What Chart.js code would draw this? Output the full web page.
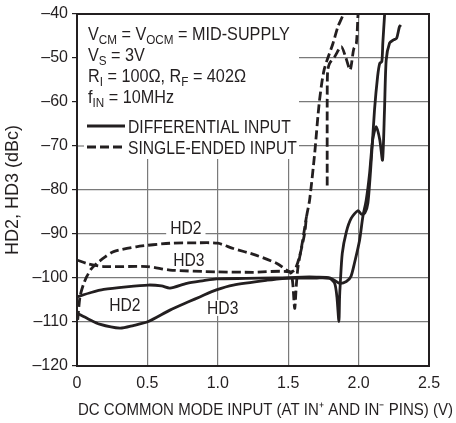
<!DOCTYPE html>
<html>
<head>
<meta charset="utf-8">
<script src="https://cdn.jsdelivr.net/npm/chart.js@4.4.1/dist/chart.umd.min.js"></script>
<style>
  html, body { margin: 0; padding: 0; background: #fff; }
  #wrap { width: 456px; height: 423px; }
</style>
</head>
<body>
<div id="wrap"><canvas id="c" width="456" height="423"></canvas></div>
<script>
// ---------- DATA ----------
const xTickLabels = ['0', '0.5', '1.0', '1.5', '2.0', '2.5'];
const yTickValues = [-120, -110, -100, -90, -80, -70, -60, -50, -40];

// Differential input, HD2 (solid, upper low-voltage curve, ends with cusp + left loop)
const diffHd2X = [0, 0.1, 0.19, 0.35, 0.506, 0.6, 0.66, 0.78, 0.9, 0.99, 1.2, 1.4, 1.5, 1.6, 1.7, 1.794, 1.83, 1.846, 1.86, 1.865, 1.87, 1.884, 1.913, 1.948, 1.995, 2.02, 2.045, 2.066, 2.09, 2.113, 2.135, 2.15, 2.165, 2.172, 2.184, 2.19];
const diffHd2Y = [-104.3, -103.3, -102.6, -102.0, -101.6, -101.8, -102.3, -101.2, -100.6, -100.2, -100.1, -100.0, -100.0, -100.0, -100.0, -100.1, -101.2, -104.3, -109.9, -104.3, -101.2, -94.4, -89.5, -86.4, -84.7, -85.5, -85.2, -83.0, -73.2, -61.8, -54.2, -51.2, -50.8, -46.6, -40.5, -37];

// Differential input, HD3 (solid, lower low-voltage curve)
const diffHd3X = [0, 0.08, 0.16, 0.305, 0.4, 0.506, 0.66, 0.8, 0.872, 0.99, 1.11, 1.35, 1.5, 1.6, 1.7, 1.8, 1.865, 1.913, 1.945, 1.97, 2.007, 2.03, 2.054, 2.078, 2.1, 2.125, 2.15, 2.17, 2.184, 2.196, 2.22, 2.248, 2.27, 2.29, 2.30];
const diffHd3Y = [-108.0, -109.3, -110.5, -111.4, -110.8, -109.9, -107.3, -105.3, -104.3, -102.7, -101.6, -100.5, -100.0, -99.8, -99.8, -100.0, -101.2, -100.8, -99.7, -96.7, -91.4, -86.1, -82.3, -76.2, -68.6, -65.6, -68.5, -73.2, -61.8, -50.5, -46.6, -45.9, -45.5, -42.9, -42.5];

// Single-ended input, HD2 (dashed, rises to -92 plateau)
const seHd2X = [0.005, 0.021, 0.045, 0.069, 0.1, 0.14, 0.2, 0.26, 0.42, 0.66, 0.85, 1.0, 1.11, 1.27, 1.42, 1.51, 1.546, 1.58, 1.617, 1.63, 1.652, 1.688, 1.72, 1.755, 1.818, 1.853, 1.889, 1.9];
const seHd2Y = [-109.5, -104.3, -101.5, -99.7, -98.0, -96.7, -95.2, -94.0, -92.9, -92.1, -92.0, -92.1, -93.3, -94.8, -96.7, -98.6, -98.2, -95.2, -89.8, -86.1, -82.3, -71.7, -60.3, -52.7, -46.7, -42.9, -40.2, -38];

// Single-ended input, HD3 (dashed, flat near -98, dip, then a separate upper branch)
const seHd3X = [0, 0.07, 0.19, 0.5, 0.66, 0.99, 1.25, 1.51, 1.53, 1.546, 1.558, 1.57, 1.6, 1.63, 1.70, 1.777, 1.777, 1.78, 1.794, 1.83, 1.877, 1.91, 1.94, 1.965, 1.984, 1.995, 2.0];
const seHd3Y = [-95.9, -96.7, -97.4, -97.4, -98.2, -98.6, -98.7, -98.6, -100.5, -106.9, -101.5, -97.4, -92.0, -86.0, null, -79.0, -60.0, -53.0, -51.2, -49.7, -47.4, -50.0, -52.7, -48.0, -46.7, -40.6, -38];

const xTitle = 'DC COMMON MODE INPUT (AT IN\u207A AND IN\u207B PINS) (V)';
const yTitle = 'HD2, HD3 (dBc)';

// ---------- helpers ----------
const pts = (xs, ys) => xs.map((x, i) => ({ x: x, y: ys[i] }));
const FONT = "'Liberation Sans', Arial, Helvetica, sans-serif";

function richText(ctx, x, baseline, parts, size, sx) {
  // parts: [text, isSub]
  ctx.save();
  ctx.translate(x, baseline);
  ctx.scale(sx, 1);
  let cx = 0;
  for (const [t, sub] of parts) {
    const fs = sub ? Math.round(size * 0.72) : size;
    ctx.font = fs + 'px ' + FONT;
    ctx.fillText(t, cx, sub ? 3.5 : 0);
    cx += ctx.measureText(t).width;
  }
  ctx.restore();
}

const annotPlugin = {
  id: 'annot',
  beforeDatasetsDraw(chart) {
    const ctx = chart.ctx;
    const a = chart.chartArea;
    const xs = chart.scales.x, ys = chart.scales.y;
    ctx.save();
    // white box behind the condition text / legend
    ctx.fillStyle = '#fff';
    ctx.fillRect(a.left + 1, a.top + 1, 298 - a.left, 158 - a.top);
    // restore the short piece of the -70 grid line left of the legend
    ctx.strokeStyle = '#7a7a7a';
    ctx.lineWidth = 1.2;
    const y70 = ys.getPixelForValue(-70);
    ctx.beginPath(); ctx.moveTo(a.left, y70); ctx.lineTo(a.left + 7, y70); ctx.stroke();

    ctx.fillStyle = '#231f20';
    ctx.textBaseline = 'alphabetic';
    ctx.textAlign = 'left';
    const L = a.left + 11, S = 18, SX = 0.9;
    richText(ctx, L, 40, [['V', 0], ['CM', 1], [' = V', 0], ['OCM', 1], [' = MID-SUPPLY', 0]], S, SX);
    richText(ctx, L, 61, [['V', 0], ['S', 1], [' = 3V', 0]], S, SX);
    richText(ctx, L, 82, [['R', 0], ['I', 1], [' = 100\u03A9, R', 0], ['F', 1], [' = 402\u03A9', 0]], S, SX);
    richText(ctx, L, 103, [['f', 0], ['IN', 1], [' = 10MHz', 0]], S, SX);
    // legend samples
    ctx.strokeStyle = '#231f20';
    ctx.lineWidth = 3;
    ctx.setLineDash([]);
    ctx.beginPath(); ctx.moveTo(L - 1, 126); ctx.lineTo(L + 37, 126); ctx.stroke();
    ctx.setLineDash([9, 4]);
    ctx.beginPath(); ctx.moveTo(L - 1, 147); ctx.lineTo(L + 37, 147); ctx.stroke();
    ctx.setLineDash([]);
    richText(ctx, L + 40, 133, [['DIFFERENTIAL INPUT', 0]], S, 0.87);
    richText(ctx, L + 40, 154, [['SINGLE-ENDED INPUT', 0]], S, 0.87);

    // curve labels (data coordinates)
    const labels = [['HD2', 0.773, -88.6], ['HD3', 0.794, -95.7], ['HD2', 0.34, -106.0], ['HD3', 1.035, -106.8]];
    ctx.font = S + 'px ' + FONT;
    for (const [t, vx, vy] of labels) {
      const px = xs.getPixelForValue(vx), py = ys.getPixelForValue(vy);
      const w = ctx.measureText(t).width * 0.87;
      ctx.fillStyle = '#fff';
      ctx.fillRect(px - w / 2 - 4, py - 8, w + 8, 16);
      ctx.fillStyle = '#231f20';
      richText(ctx, px - w / 2, py + 6.5, [[t, 0]], S, 0.87);
    }
    ctx.restore();
  },
  afterDatasetsDraw(chart) {
    const ctx = chart.ctx, a = chart.chartArea;
    ctx.save();
    ctx.strokeStyle = '#231f20';
    ctx.lineWidth = 2;
    ctx.strokeRect(a.left, a.top, a.right - a.left, a.bottom - a.top);
    // x axis title: starts at the plot's left edge, runs past the right edge as in the reference
    ctx.fillStyle = '#231f20';
    ctx.font = '17px ' + FONT;
    const natural = ctx.measureText(xTitle).width;
    const target = 452 - a.left;
    ctx.textBaseline = 'alphabetic';
    ctx.textAlign = 'left';
    ctx.translate(a.left + 1, 415);
    ctx.scale(target / natural, 1);
    ctx.fillText(xTitle, 0, 0);
    ctx.restore();
  }
};

const lineStyle = (dashed) => ({
  borderColor: '#231f20',
  borderWidth: 2.8,
  borderDash: dashed ? [9, 4] : [],
  pointRadius: 0,
  tension: 0.25,
  fill: false,
  spanGaps: false
});

new Chart(document.getElementById('c'), {
  type: 'line',
  data: {
    datasets: [
      Object.assign({ label: 'Differential HD2', data: pts(diffHd2X, diffHd2Y) }, lineStyle(false)),
      Object.assign({ label: 'Differential HD3', data: pts(diffHd3X, diffHd3Y) }, lineStyle(false)),
      Object.assign({ label: 'Single-ended HD2', data: pts(seHd2X, seHd2Y) }, lineStyle(true)),
      Object.assign({ label: 'Single-ended HD3', data: pts(seHd3X, seHd3Y) }, lineStyle(true))
    ]
  },
  options: {
    responsive: false,
    animation: false,
    devicePixelRatio: 1,
    layout: { padding: { left: 0, right: 27, top: 14, bottom: 0 } },
    plugins: { legend: { display: false }, tooltip: { enabled: false } },
    scales: {
      x: {
        type: 'linear',
        min: 0, max: 2.5,
        afterBuildTicks: (s) => { s.ticks = xTickLabels.map(v => ({ value: parseFloat(v) })); },
        ticks: {
          callback: (v, i) => xTickLabels[i],
          font: { family: FONT, size: 16 },
          color: '#231f20',
          padding: 8,
          maxRotation: 0
        },
        grid: { color: '#7a7a7a', lineWidth: 1.2, tickLength: 0, drawTicks: false },
        border: { color: '#231f20', width: 2 },
        title: { display: false, text: xTitle },
        afterFit: (s) => { s.height = 57; }
      },
      y: {
        min: -120, max: -40,
        afterBuildTicks: (s) => { s.ticks = yTickValues.map(v => ({ value: v })); },
        ticks: {
          callback: (v) => (v < 0 ? '\u2013' : '') + Math.abs(v),
          font: { family: FONT, size: 16 },
          color: '#231f20',
          padding: 4
        },
        grid: { color: '#7a7a7a', lineWidth: 1.2, tickLength: 5, tickColor: '#231f20' },
        border: { color: '#231f20', width: 2 },
        title: {
          display: true,
          text: yTitle,
          font: { family: FONT, size: 18 },
          color: '#231f20',
          padding: { top: 2, bottom: 2 }
        },
        afterFit: (s) => { s.width = 77; }
      }
    }
  },
  plugins: [annotPlugin]
});
</script>
</body>
</html>
